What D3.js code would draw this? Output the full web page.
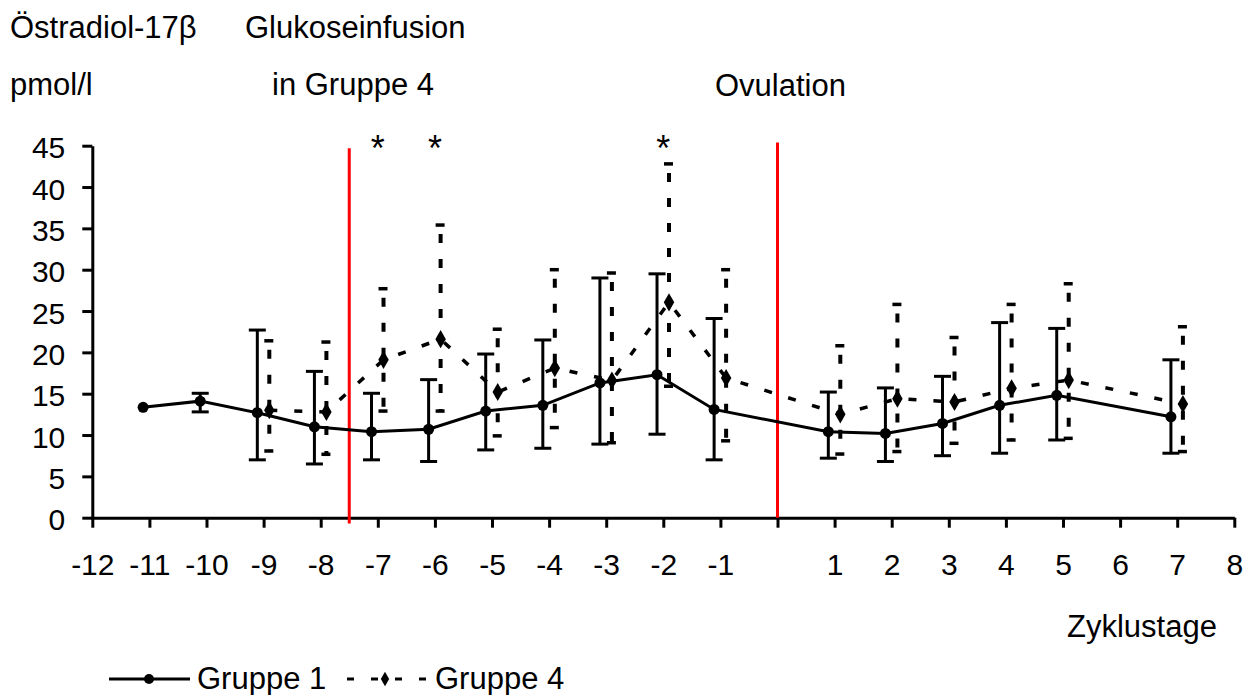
<!DOCTYPE html>
<html>
<head>
<meta charset="utf-8">
<script src="https://cdn.jsdelivr.net/npm/d3@7"></script>
<style>
  html, body { margin: 0; padding: 0; background: #fff; }
  svg { display: block; }
  text { font-family: "Liberation Sans", Arial, sans-serif; fill: #000; }
</style>
</head>
<body>
<svg id="chart" width="1252" height="695"></svg>
<script>
// Cycle days and estradiol-17β values (pmol/l), mean with upper/lower bar ends
const days1  = [-11, -10, -9, -8, -7, -6, -5, -4, -3, -2, -1, 1, 2, 3, 4, 5, 7];
const mean1  = [13.35, 14.1, 12.7, 11.0, 10.4, 10.7, 12.9, 13.6, 16.3, 17.3, 13.1, 10.4, 10.2, 11.4, 13.6, 14.8, 12.2];
const upper1 = [null, 15.05, 22.7, 17.7, 15.05, 16.7, 19.8, 21.5, 29.0, 29.5, 24.1, 15.2, 15.7, 17.1, 23.6, 22.9, 19.1];
const lower1 = [null, 12.8, 7.0, 6.5, 7.0, 6.8, 8.2, 8.4, 8.9, 10.1, 7.0, 7.2, 6.8, 7.5, 7.8, 9.4, 7.8];

const days4  = [-9, -8, -7, -6, -5, -4, -3, -2, -1, 1, 2, 3, 4, 5, 7];
const mean4  = [13.0, 12.8, 19.1, 21.6, 15.2, 18.1, 16.6, 26.05, 16.9, 12.5, 14.4, 14.0, 15.65, 16.65, 13.75];
const upper4 = [21.4, 21.25, 27.7, 35.4, 22.8, 30.0, 29.6, 42.8, 30.0, 20.8, 25.8, 21.8, 25.8, 28.3, 23.1];
const lower4 = [8.07, 7.67, 12.9, 12.9, 9.9, 10.9, 9.07, 15.9, 9.3, 7.7, 8.0, 9.0, 9.4, 9.6, 8.0];

// Significant differences
const starDays = [-7, -6, -2];

// Axis ticks
const xTicks = d3.range(-12, 9);
const yTicks = [0, 5, 10, 15, 20, 25, 30, 35, 40, 45];

// Event markers: start of glucose infusion and ovulation (day, bottom, top)
const eventDays   = [-7.5, 0];
const eventBottom = [-0.7, 0];
const eventTop    = [44.7, 45.4];

const svg = d3.select("#chart");

const x = d3.scaleLinear().domain([-12, 8]).range([92.3, 1234.3]);
const y = d3.scaleLinear().domain([0, 45]).range([517.7, 145.7]);

const off1 = -0.11, off4 = 0.1;

const g1 = days1.map((d, i) => ({ day: d, v: mean1[i], hi: upper1[i], lo: lower1[i] }));
const g4 = days4.map((d, i) => ({ day: d, v: mean4[i], hi: upper4[i], lo: lower4[i] }));

// Axes
const xAxis = svg.append("g").attr("transform", `translate(0,${y(0)})`)
  .call(d3.axisBottom(x).tickValues(xTicks).tickSize(10).tickSizeOuter(0)
    .tickFormat(d => d === 0 ? "" : String(d)));
xAxis.select(".domain").attr("stroke", "#000").attr("stroke-width", 3);
xAxis.selectAll(".tick line").attr("stroke", "#000").attr("stroke-width", 3);
xAxis.selectAll(".tick text").attr("font-size", 30).attr("y", 36).attr("dy", "0.71em")
  .attr("font-family", "Liberation Sans, Arial, sans-serif");

const yAxis = svg.append("g").attr("transform", `translate(${x(-12)},0)`)
  .call(d3.axisLeft(y).tickValues(yTicks).tickSize(10).tickSizeOuter(0));
yAxis.select(".domain").attr("stroke", "#000").attr("stroke-width", 3);
yAxis.selectAll(".tick line").attr("stroke", "#000").attr("stroke-width", 3);
yAxis.selectAll(".tick text").attr("font-size", 30).attr("x", -27).attr("dy", "0.4em")
  .attr("font-family", "Liberation Sans, Arial, sans-serif");

// Event lines
svg.append("g").selectAll("line").data(eventDays).join("line")
  .attr("x1", d => x(d)).attr("x2", d => x(d))
  .attr("y1", (d, i) => y(eventBottom[i])).attr("y2", (d, i) => y(eventTop[i]))
  .attr("stroke", "#ff0000").attr("stroke-width", 3);

// Series lines
const line = off => d3.line().x(d => x(d.day + off)).y(d => y(d.v));

svg.append("path").datum(g4).attr("d", line(off4))
  .attr("fill", "none").attr("stroke", "#000").attr("stroke-width", 3.5)
  .attr("stroke-dasharray", "8,17");

svg.append("path").datum(g1).attr("d", line(off1))
  .attr("fill", "none").attr("stroke", "#000").attr("stroke-width", 3);

// Error bars, Gruppe 1 (solid)
const eb1 = svg.append("g").selectAll("g").data(g1.filter(d => d.hi != null)).join("g");
eb1.append("line")
  .attr("x1", d => x(d.day + off1)).attr("x2", d => x(d.day + off1))
  .attr("y1", d => y(d.hi)).attr("y2", d => y(d.lo))
  .attr("stroke", "#000").attr("stroke-width", 3);
["hi", "lo"].forEach(k => {
  eb1.append("line")
    .attr("x1", d => x(d.day + off1) - 8.5).attr("x2", d => x(d.day + off1) + 8.5)
    .attr("y1", d => y(d[k])).attr("y2", d => y(d[k]))
    .attr("stroke", "#000").attr("stroke-width", 3);
});

// Error bars, Gruppe 4 (dashed)
const eb4 = svg.append("g").selectAll("g").data(g4).join("g");
eb4.append("line")
  .attr("x1", d => x(d.day + off4)).attr("x2", d => x(d.day + off4))
  .attr("y1", d => y(d.hi)).attr("y2", d => y(d.lo))
  .attr("stroke", "#000").attr("stroke-width", 4)
  .attr("stroke-dasharray", "9,16").attr("stroke-dashoffset", 16);
["hi", "lo"].forEach(k => {
  eb4.append("line")
    .attr("x1", d => x(d.day + off4) - 5).attr("x2", d => x(d.day + off4) + 4)
    .attr("y1", d => y(d[k])).attr("y2", d => y(d[k]))
    .attr("stroke", "#000").attr("stroke-width", 3.5);
});

// Markers
const diamond = d3.symbol().type(d3.symbolDiamond).size(95);
svg.append("g").selectAll("path").data(g4).join("path")
  .attr("d", diamond)
  .attr("transform", d => `translate(${x(d.day + off4)},${y(d.v)})`)
  .attr("fill", "#000");

svg.append("g").selectAll("circle").data(g1).join("circle")
  .attr("cx", d => x(d.day + off1)).attr("cy", d => y(d.v)).attr("r", 5.5)
  .attr("fill", "#000");

// Significance stars
svg.append("g").selectAll("text").data(starDays).join("text")
  .attr("x", d => x(d)).attr("y", 161)
  .attr("text-anchor", "middle").attr("font-size", 36)
  .text("*");

// Titles and annotations
const label = (t, xp, yp, size) => svg.append("text")
  .attr("x", xp).attr("y", yp).attr("font-size", size).text(t);
label("Östradiol-17β", 10, 38, 31);
label("pmol/l", 10, 95, 31);
label("Glukoseinfusion", 245, 38, 31);
label("in Gruppe 4", 272, 95, 31);
label("Ovulation", 715, 96, 31);
label("Zyklustage", 1067, 637, 31);

// Legend
const lg = svg.append("g");
lg.append("line").attr("x1", 109).attr("x2", 190).attr("y1", 679).attr("y2", 679)
  .attr("stroke", "#000").attr("stroke-width", 3);
lg.append("circle").attr("cx", 149).attr("cy", 679).attr("r", 5).attr("fill", "#000");
lg.append("text").attr("x", 197).attr("y", 689).attr("font-size", 31).text("Gruppe 1");

lg.append("line").attr("x1", 347).attr("x2", 427).attr("y1", 679).attr("y2", 679)
  .attr("stroke", "#000").attr("stroke-width", 3).attr("stroke-dasharray", "7,17");
lg.append("path").attr("d", d3.symbol().type(d3.symbolDiamond).size(60))
  .attr("transform", "translate(385,679)").attr("fill", "#000");
lg.append("text").attr("x", 435).attr("y", 689).attr("font-size", 31).text("Gruppe 4");
</script>
</body>
</html>
